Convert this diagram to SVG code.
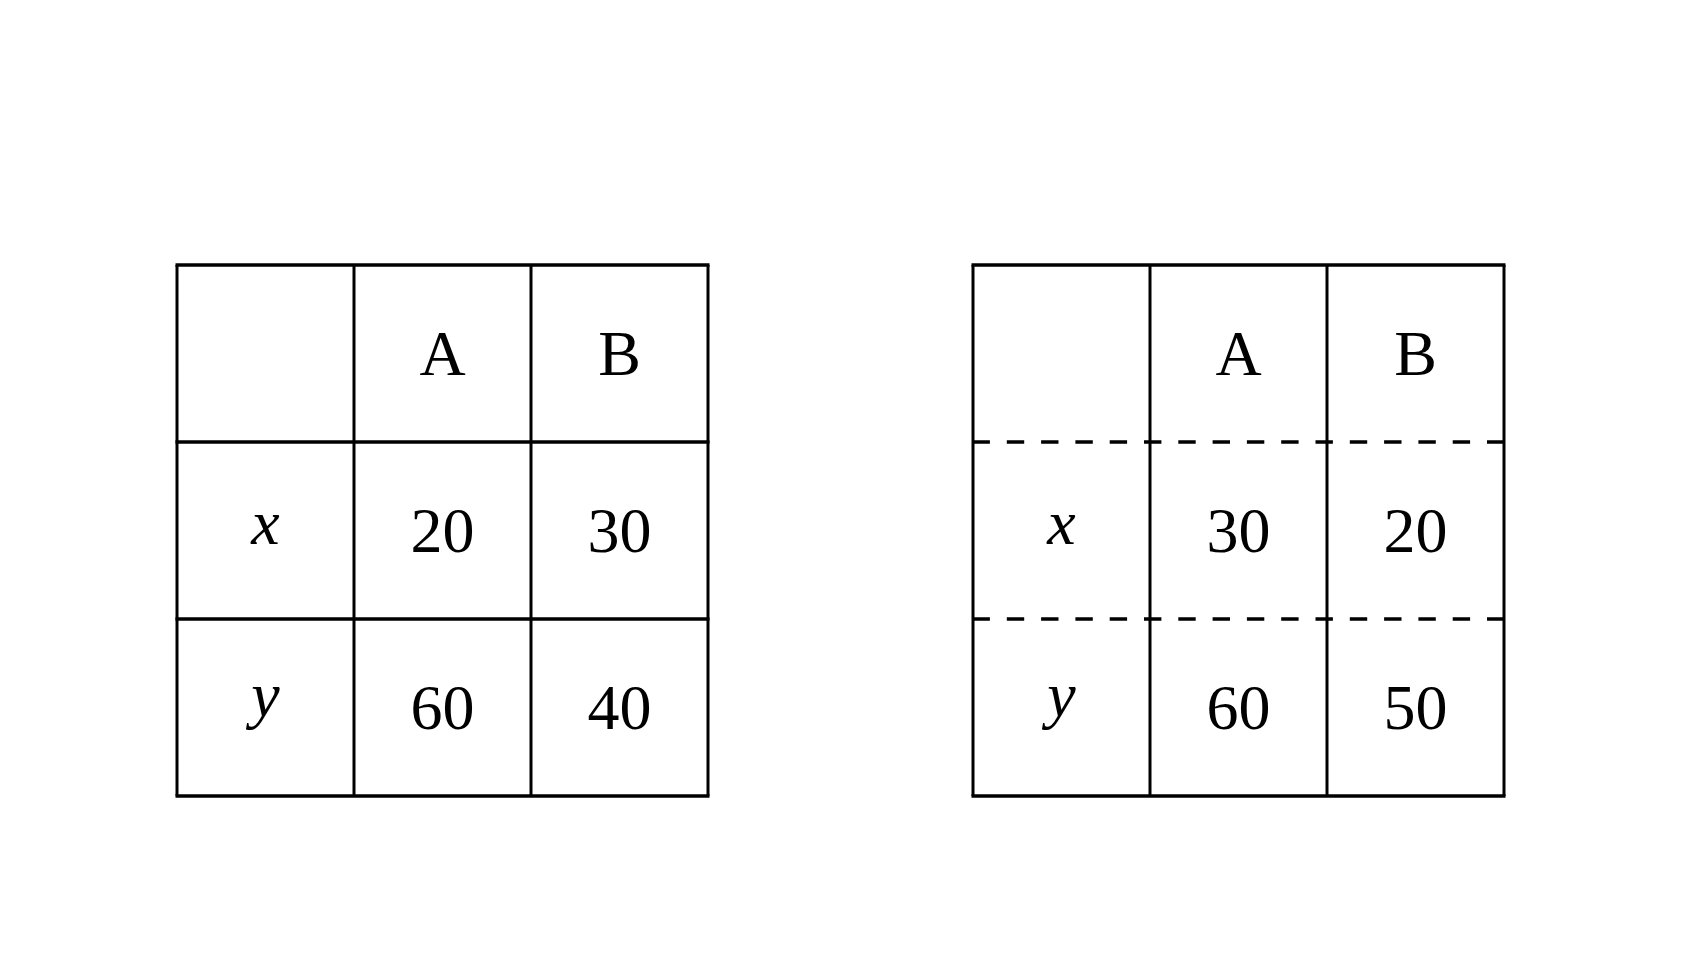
<svg xmlns="http://www.w3.org/2000/svg" width="1683" height="974" viewBox="0 0 1683 974">
<style>
.h{stroke:#000;stroke-width:3.6;fill:none}
.v{stroke:#000;stroke-width:3;fill:none}
.d{stroke:#000;stroke-width:3.6;fill:none;stroke-dasharray:17.4 16.9}
.t{font-family:"Liberation Serif","DejaVu Serif",serif;font-size:64px;fill:#000;text-anchor:middle}
.i{font-style:italic}
</style>
<rect width="1683" height="974" fill="#fff"/>
<g id="table-left">
<g id="left-grid">
<line class="v" x1="177" y1="265" x2="177" y2="796"/>
<line class="v" x1="354" y1="265" x2="354" y2="796"/>
<line class="v" x1="531" y1="265" x2="531" y2="796"/>
<line class="v" x1="708" y1="265" x2="708" y2="796"/>
<line class="h" x1="175.5" y1="265" x2="709.5" y2="265"/>
<line class="h" x1="175.5" y1="442" x2="709.5" y2="442"/>
<line class="h" x1="175.5" y1="619" x2="709.5" y2="619"/>
<line class="h" x1="175.5" y1="796" x2="709.5" y2="796"/>
</g>
<g id="left-text">
<text class="t" x="442.5" y="375">A</text>
<text class="t" x="619.5" y="375">B</text>
<text class="t i" x="265.5" y="544">x</text>
<text class="t" x="442.5" y="552">20</text>
<text class="t" x="619.5" y="552">30</text>
<text class="t i" x="265.5" y="716">y</text>
<text class="t" x="442.5" y="729">60</text>
<text class="t" x="619.5" y="729">40</text>
</g>
</g>
<g id="table-right">
<g id="right-grid">
<line class="v" x1="973" y1="265" x2="973" y2="796"/>
<line class="v" x1="1150" y1="265" x2="1150" y2="796"/>
<line class="v" x1="1327" y1="265" x2="1327" y2="796"/>
<line class="v" x1="1504" y1="265" x2="1504" y2="796"/>
<line class="h" x1="971.5" y1="265" x2="1505.5" y2="265"/>
<line class="d" x1="972.5" y1="442" x2="1505.5" y2="442"/>
<line class="d" x1="972.5" y1="619" x2="1505.5" y2="619"/>
<line class="h" x1="971.5" y1="796" x2="1505.5" y2="796"/>
</g>
<g id="right-text">
<text class="t" x="1238.5" y="375">A</text>
<text class="t" x="1415.5" y="375">B</text>
<text class="t i" x="1061.5" y="544">x</text>
<text class="t" x="1238.5" y="552">30</text>
<text class="t" x="1415.5" y="552">20</text>
<text class="t i" x="1061.5" y="716">y</text>
<text class="t" x="1238.5" y="729">60</text>
<text class="t" x="1415.5" y="729">50</text>
</g>
</g>
</svg>
